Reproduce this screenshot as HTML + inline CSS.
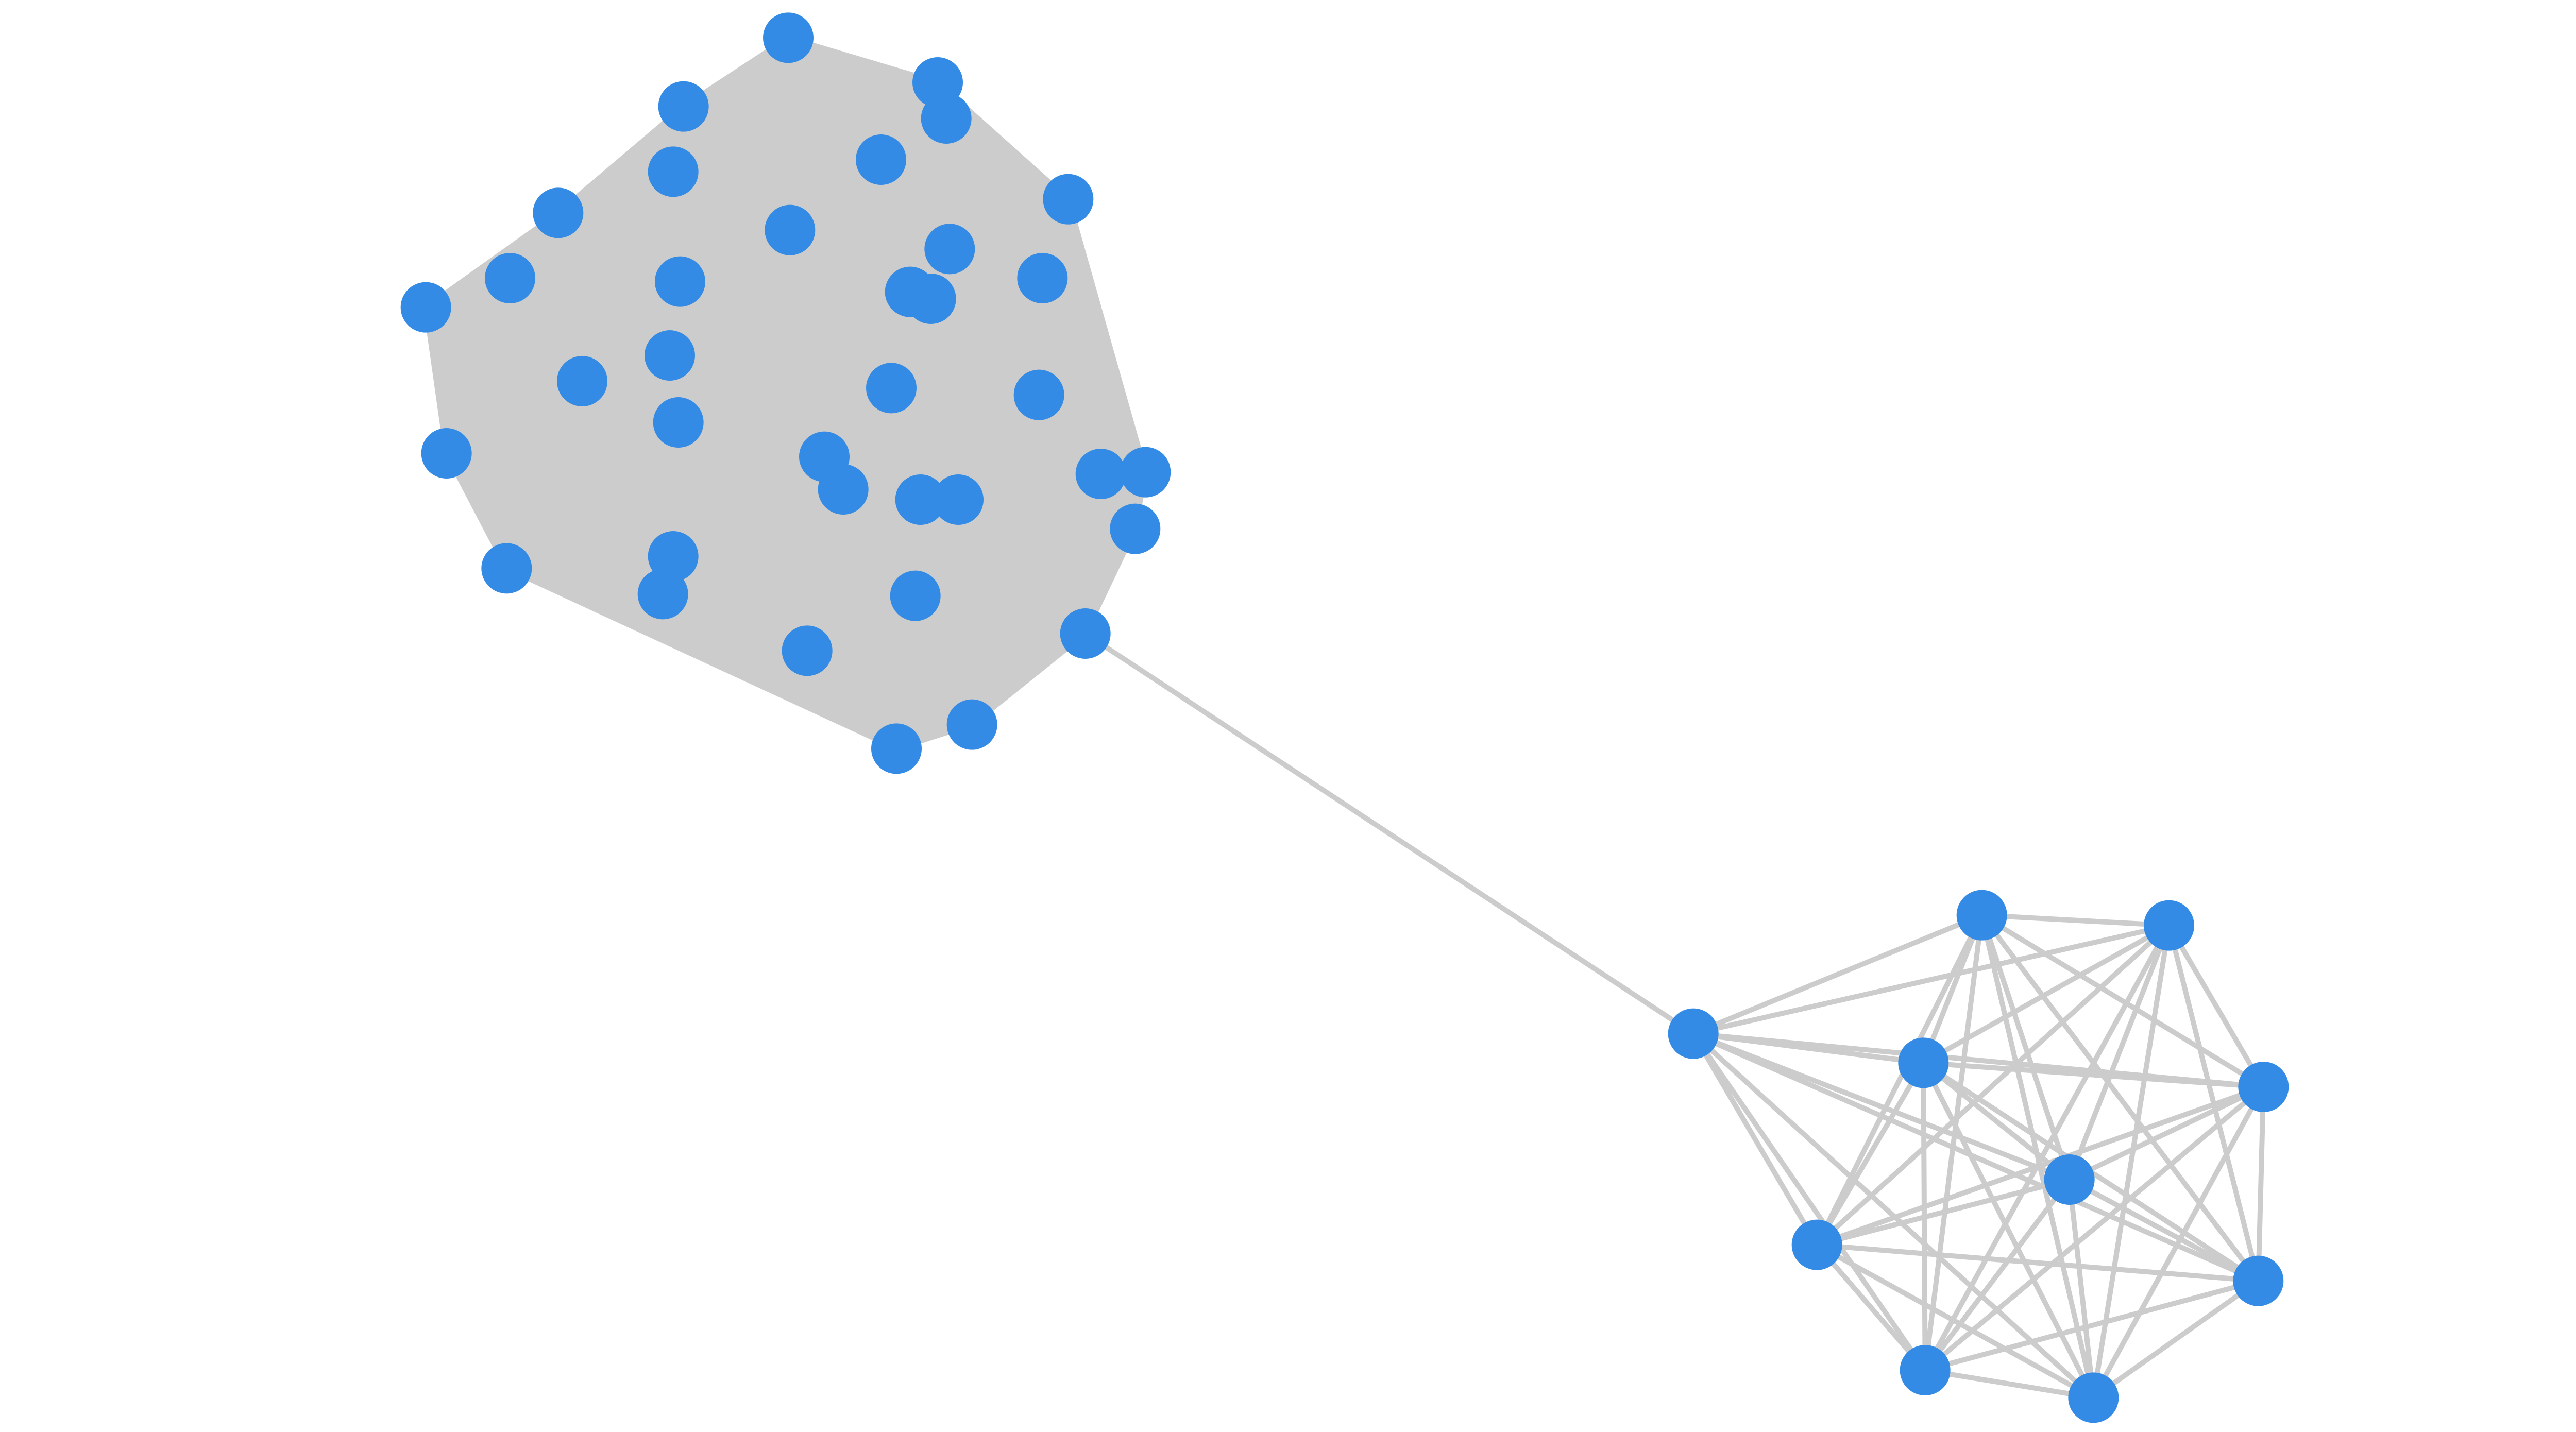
<!DOCTYPE html>
<html><head><meta charset="utf-8"><style>
html,body{margin:0;padding:0;background:#fff;}
svg{display:block;}
</style></head><body>
<svg width="5200" height="2780" viewBox="0 0 1560 834" preserveAspectRatio="none" xmlns="http://www.w3.org/2000/svg">
<g stroke="#cccccc" stroke-width="3" fill="none" stroke-linecap="round">
<polygon fill="#cccccc" points="459,22 546,48 622,116 667,275 661,308 632,369 566,422 522,436 295,331 260,264 248,179 325,124 398,62"/>
<line x1="632" y1="369" x2="986" y2="602"/>
<line x1="1154" y1="533" x2="1263" y2="539"/>
<line x1="1154" y1="533" x2="986" y2="602"/>
<line x1="1154" y1="533" x2="1120" y2="619"/>
<line x1="1154" y1="533" x2="1318" y2="633"/>
<line x1="1154" y1="533" x2="1205" y2="687"/>
<line x1="1154" y1="533" x2="1058" y2="725"/>
<line x1="1154" y1="533" x2="1315" y2="746"/>
<line x1="1154" y1="533" x2="1121" y2="798"/>
<line x1="1154" y1="533" x2="1219" y2="814"/>
<line x1="1263" y1="539" x2="986" y2="602"/>
<line x1="1263" y1="539" x2="1120" y2="619"/>
<line x1="1263" y1="539" x2="1318" y2="633"/>
<line x1="1263" y1="539" x2="1205" y2="687"/>
<line x1="1263" y1="539" x2="1058" y2="725"/>
<line x1="1263" y1="539" x2="1315" y2="746"/>
<line x1="1263" y1="539" x2="1121" y2="798"/>
<line x1="1263" y1="539" x2="1219" y2="814"/>
<line x1="986" y1="602" x2="1120" y2="619"/>
<line x1="986" y1="602" x2="1318" y2="633"/>
<line x1="986" y1="602" x2="1205" y2="687"/>
<line x1="986" y1="602" x2="1058" y2="725"/>
<line x1="986" y1="602" x2="1315" y2="746"/>
<line x1="986" y1="602" x2="1121" y2="798"/>
<line x1="986" y1="602" x2="1219" y2="814"/>
<line x1="1120" y1="619" x2="1318" y2="633"/>
<line x1="1120" y1="619" x2="1205" y2="687"/>
<line x1="1120" y1="619" x2="1058" y2="725"/>
<line x1="1120" y1="619" x2="1315" y2="746"/>
<line x1="1120" y1="619" x2="1121" y2="798"/>
<line x1="1120" y1="619" x2="1219" y2="814"/>
<line x1="1318" y1="633" x2="1205" y2="687"/>
<line x1="1318" y1="633" x2="1058" y2="725"/>
<line x1="1318" y1="633" x2="1315" y2="746"/>
<line x1="1318" y1="633" x2="1121" y2="798"/>
<line x1="1318" y1="633" x2="1219" y2="814"/>
<line x1="1205" y1="687" x2="1058" y2="725"/>
<line x1="1205" y1="687" x2="1315" y2="746"/>
<line x1="1205" y1="687" x2="1121" y2="798"/>
<line x1="1205" y1="687" x2="1219" y2="814"/>
<line x1="1058" y1="725" x2="1315" y2="746"/>
<line x1="1058" y1="725" x2="1121" y2="798"/>
<line x1="1058" y1="725" x2="1219" y2="814"/>
<line x1="1315" y1="746" x2="1121" y2="798"/>
<line x1="1315" y1="746" x2="1219" y2="814"/>
<line x1="1121" y1="798" x2="1219" y2="814"/>
</g>
<g fill="#338be5">
<circle cx="459" cy="22" r="14.7"/><circle cx="546" cy="48" r="14.7"/><circle cx="551" cy="69" r="14.7"/>
<circle cx="398" cy="62" r="14.7"/><circle cx="392" cy="100" r="14.7"/><circle cx="513" cy="93" r="14.7"/>
<circle cx="325" cy="124" r="14.7"/><circle cx="622" cy="116" r="14.7"/><circle cx="460" cy="134" r="14.7"/>
<circle cx="297" cy="162" r="14.7"/><circle cx="396" cy="164" r="14.7"/><circle cx="553" cy="145" r="14.7"/>
<circle cx="607" cy="162" r="14.7"/><circle cx="530" cy="170" r="14.7"/><circle cx="542" cy="174" r="14.7"/>
<circle cx="248" cy="179" r="14.7"/><circle cx="390" cy="207" r="14.7"/><circle cx="339" cy="222" r="14.7"/>
<circle cx="519" cy="226" r="14.7"/><circle cx="605" cy="230" r="14.7"/><circle cx="395" cy="246" r="14.7"/>
<circle cx="260" cy="264" r="14.7"/><circle cx="480" cy="266" r="14.7"/><circle cx="491" cy="285" r="14.7"/>
<circle cx="641" cy="276" r="14.7"/><circle cx="667" cy="275" r="14.7"/><circle cx="536" cy="291" r="14.7"/>
<circle cx="558" cy="291" r="14.7"/><circle cx="661" cy="308" r="14.7"/><circle cx="392" cy="324" r="14.7"/>
<circle cx="295" cy="331" r="14.7"/><circle cx="386" cy="346" r="14.7"/><circle cx="533" cy="347" r="14.7"/>
<circle cx="632" cy="369" r="14.7"/><circle cx="470" cy="379" r="14.7"/><circle cx="566" cy="422" r="14.7"/>
<circle cx="522" cy="436" r="14.7"/>
<circle cx="1154" cy="533" r="14.7"/><circle cx="1263" cy="539" r="14.7"/><circle cx="986" cy="602" r="14.7"/>
<circle cx="1120" cy="619" r="14.7"/><circle cx="1318" cy="633" r="14.7"/><circle cx="1205" cy="687" r="14.7"/>
<circle cx="1058" cy="725" r="14.7"/><circle cx="1315" cy="746" r="14.7"/><circle cx="1121" cy="798" r="14.7"/>
<circle cx="1219" cy="814" r="14.7"/>
</g>
</svg>
</body></html>
